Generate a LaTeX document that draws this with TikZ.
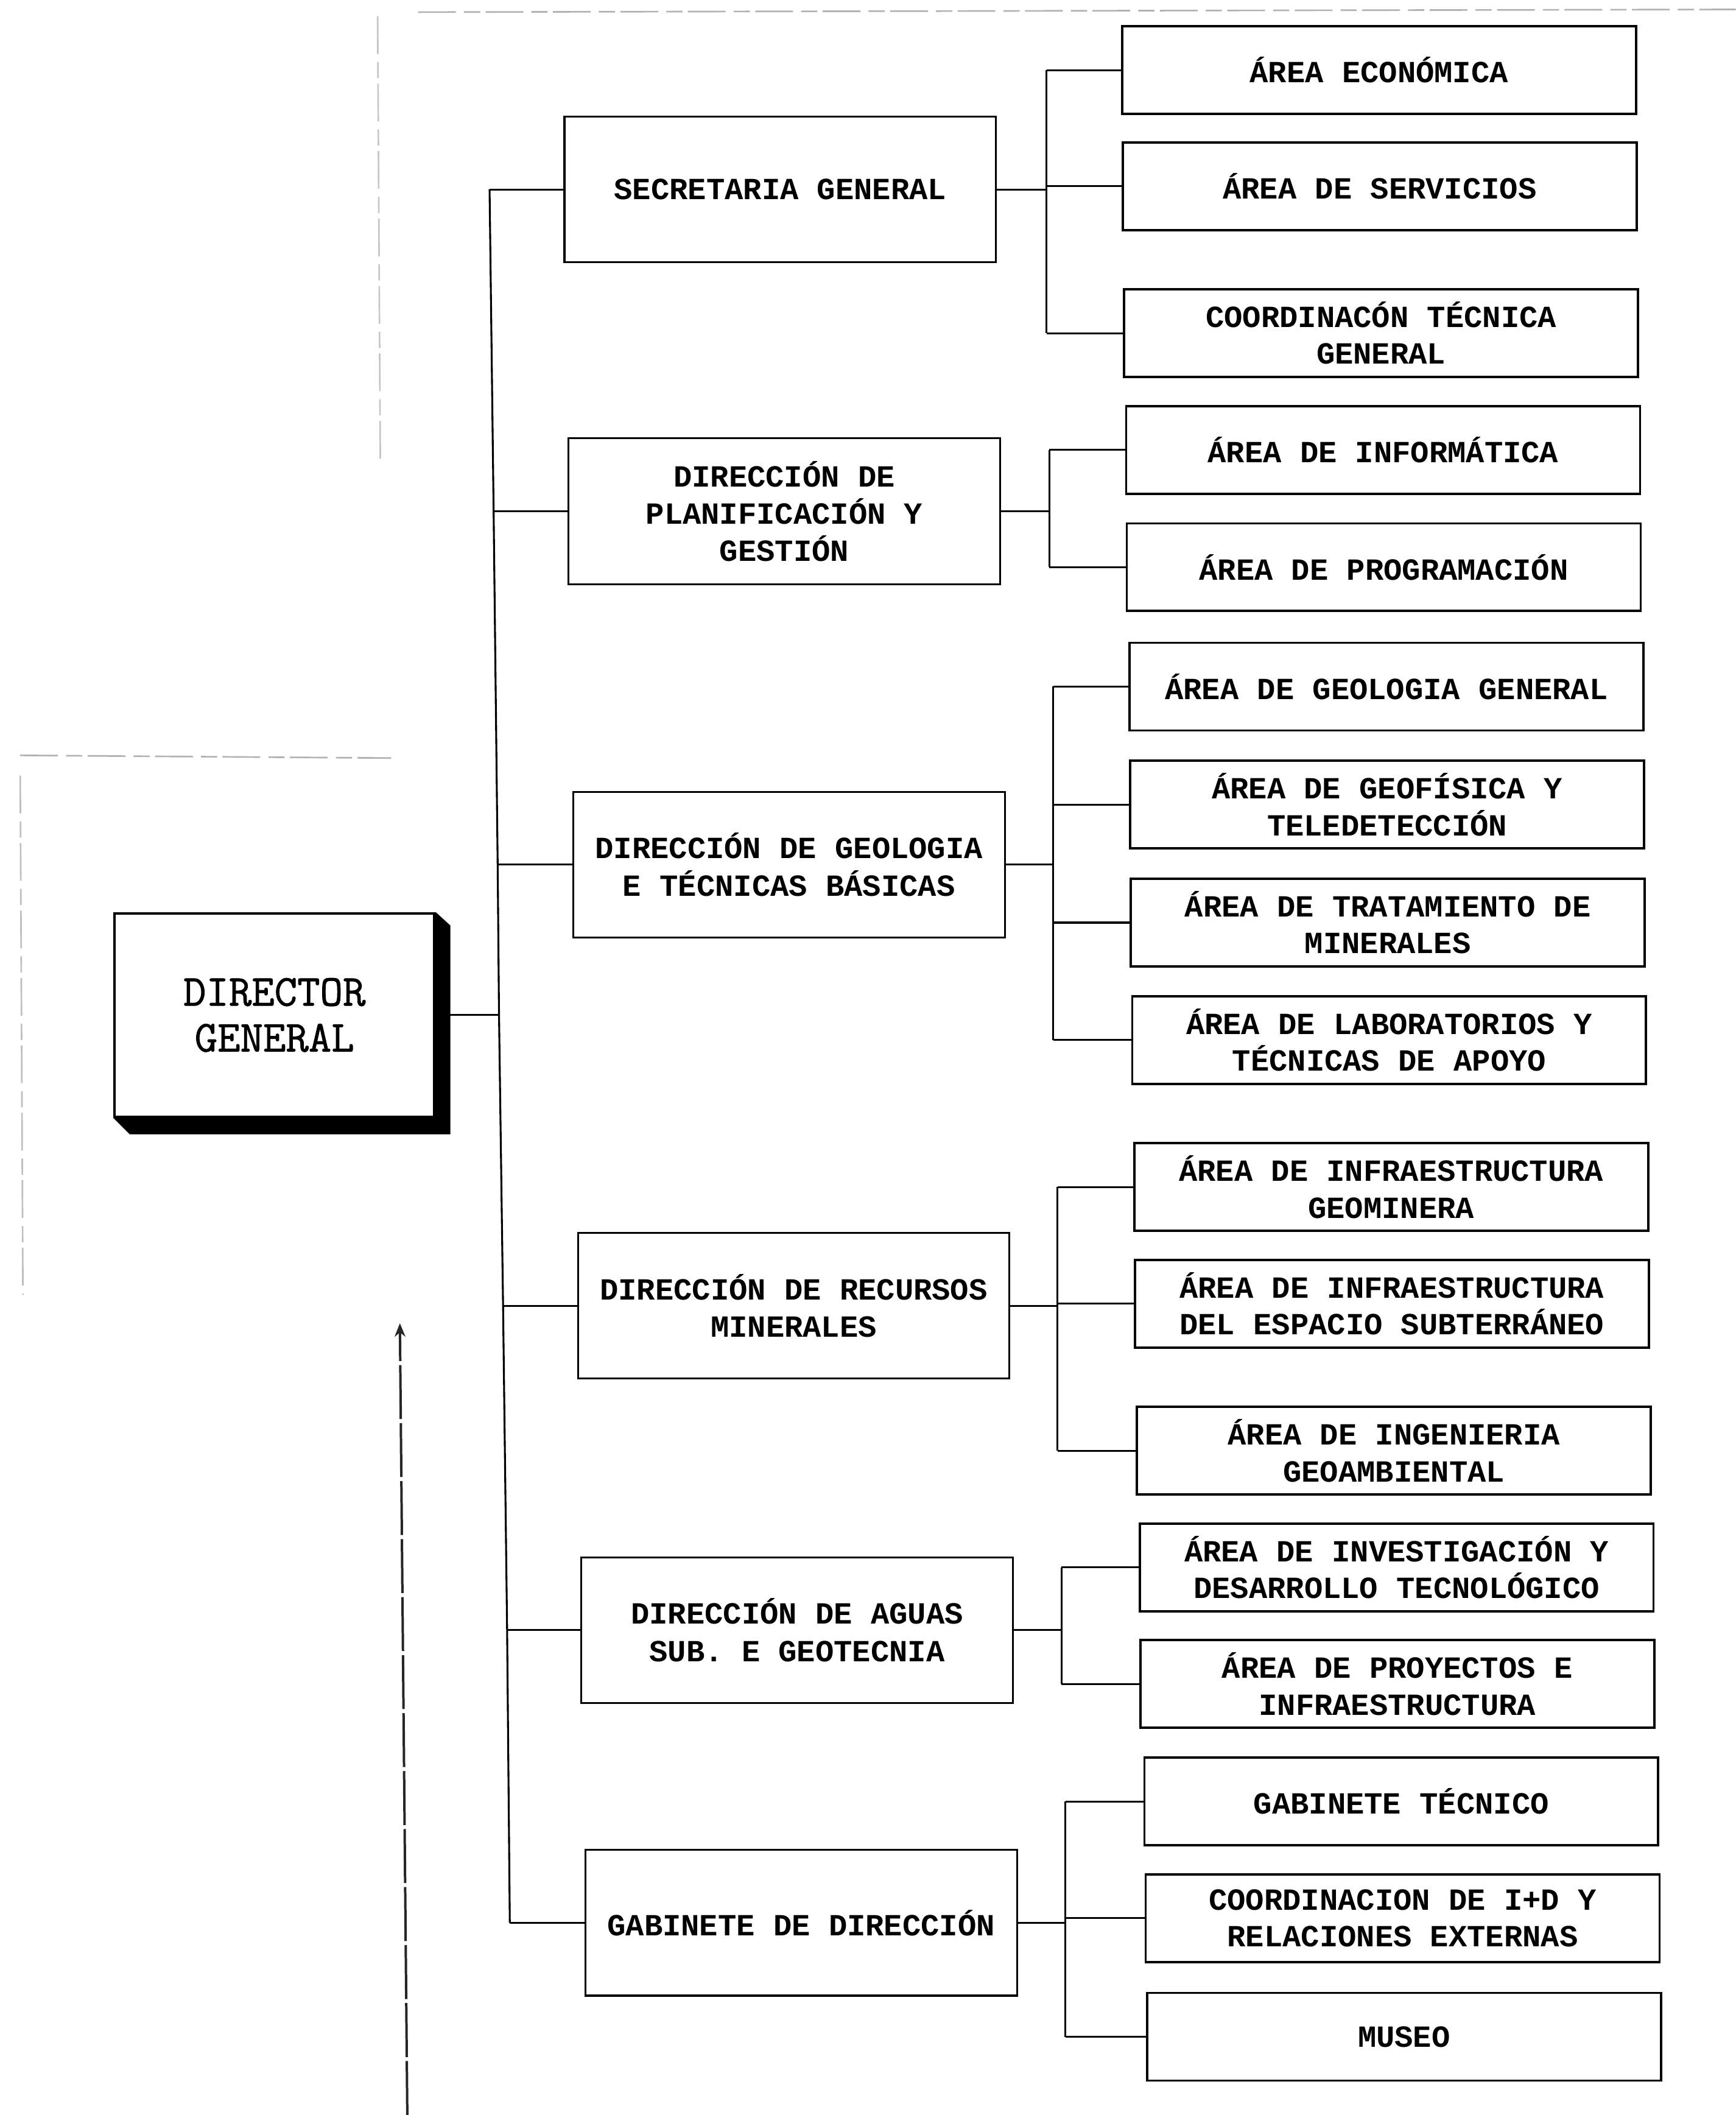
\documentclass[tikz,border=0pt]{standalone}
\usepackage{fontspec}
\newfontfamily\boxfont{Liberation Mono}
\newfontfamily\dgfont{Latin Modern Mono}[BoldFont={Latin Modern Mono},BoldFeatures={FakeBold=1.2}]
\usetikzlibrary{arrows.meta,backgrounds}
\begin{document}
\begin{tikzpicture}[x=0.5pt,y=-0.5pt,
  lvtwo/.style={draw,line width=0.85pt,fill=white,inner sep=0pt,align=center,
    minimum width=190.5pt,minimum height=32.5pt,
    font=\boxfont\bfseries\fontsize{11.4}{13.6}\selectfont},
  lvone/.style={draw,line width=0.7pt,fill=white,inner sep=0pt,align=center,
    minimum width=160pt,minimum height=54pt,
    font=\boxfont\bfseries\fontsize{11.4}{13.8}\selectfont},
  dgbox/.style={draw,line width=0.9pt,fill=white,inner sep=0pt,align=center,
    minimum width=118.5pt,minimum height=75.5pt,
    font=\dgfont\bfseries\fontsize{16.4}{17}\selectfont},
  conn/.style={line width=0.7pt},
  scanline/.style={line width=0.6pt,gray!60,dash pattern=on 14pt off 3pt on 6pt off 2pt}]
\useasboundingbox (0,0) rectangle (1287,1568);

% Director general
\node[dgbox] (dgen) at (203.5,752.5) {DIRECTOR\\GENERAL};

% Level 1
\node[lvone] (sg) at (578.5,140.5) {SECRETARIA GENERAL};
\node[lvone] (dp) at (581.5,379) {DIRECCIÓN DE\\PLANIFICACIÓN Y\\GESTIÓN};
\node[lvone] (dgeo) at (585,641) {DIRECCIÓN DE GEOLOGIA\\E TÉCNICAS BÁSICAS};
\node[lvone] (drm) at (588.5,968) {DIRECCIÓN DE RECURSOS\\MINERALES};
\node[lvone] (das) at (591,1208.5) {DIRECCIÓN DE AGUAS\\SUB. E GEOTECNIA};
\node[lvone] (gdir) at (594,1425.5) {GABINETE DE DIRECCIÓN};

% Level 2 - Secretaria
\node[lvtwo] (a11) at (1022.5,52) {ÁREA ECONÓMICA};
\node[lvtwo] (a12) at (1023,138) {ÁREA DE SERVICIOS};
\node[lvtwo] (a13) at (1024,247) {COORDINACÓN TÉCNICA\\GENERAL};
% Planificacion
\node[lvtwo] (a21) at (1025.5,333.5) {ÁREA DE INFORMÁTICA};
\node[lvtwo] (a22) at (1026,420.5) {ÁREA DE PROGRAMACIÓN};
% Geologia
\node[lvtwo] (a31) at (1028,509) {ÁREA DE GEOLOGIA GENERAL};
\node[lvtwo] (a32) at (1028.5,596.5) {ÁREA DE GEOFÍSICA Y\\TELEDETECCIÓN};
\node[lvtwo] (a33) at (1029,684) {ÁREA DE TRATAMIENTO DE\\MINERALES};
\node[lvtwo] (a34) at (1030,771) {ÁREA DE LABORATORIOS Y\\TÉCNICAS DE APOYO};
% Recursos
\node[lvtwo] (a41) at (1031.5,880) {ÁREA DE INFRAESTRUCTURA\\GEOMINERA};
\node[lvtwo] (a42) at (1032,966.5) {ÁREA DE INFRAESTRUCTURA\\DEL ESPACIO SUBTERRÁNEO};
\node[lvtwo] (a43) at (1033.5,1075.5) {ÁREA DE INGENIERIA\\GEOAMBIENTAL};
% Aguas
\node[lvtwo] (a51) at (1035.5,1162) {ÁREA DE INVESTIGACIÓN Y\\DESARROLLO TECNOLÓGICO};
\node[lvtwo] (a52) at (1036,1248.5) {ÁREA DE PROYECTOS E\\INFRAESTRUCTURA};
% Gabinete
\node[lvtwo] (a61) at (1039,1335.5) {GABINETE TÉCNICO};
\node[lvtwo] (a62) at (1040,1422) {COORDINACION DE I+D Y\\RELACIONES EXTERNAS};
\node[lvtwo] (a63) at (1041,1510) {MUSEO};

% trunk coordinates
\coordinate (t1) at (363,140.5);
\coordinate (t2) at (366,379);
\coordinate (t3) at (369,641);
\coordinate (tD) at (370,752.5);
\coordinate (t4) at (373,968);
\coordinate (t5) at (376,1208.5);
\coordinate (t6) at (378,1425.5);
% bus coordinates
\coordinate (b1a) at (776,52);   \coordinate (b1b) at (776,138);  \coordinate (b1c) at (776,247);
\coordinate (b1m) at (776,140.5);
\coordinate (b2a) at (778,333.5);\coordinate (b2b) at (778,420.5); \coordinate (b2m) at (778,379);
\coordinate (b3a) at (781,509);  \coordinate (b3b) at (781,596.5);\coordinate (b3c) at (781,684); \coordinate (b3d) at (781,771);
\coordinate (b3m) at (781,641);
\coordinate (b4a) at (784,880);  \coordinate (b4b) at (784,966.5);\coordinate (b4c) at (784,1075.5);
\coordinate (b4m) at (784,968);
\coordinate (b5a) at (787,1162); \coordinate (b5b) at (787,1248.5); \coordinate (b5m) at (787,1208.5);
\coordinate (b6a) at (790,1335.5);\coordinate (b6b) at (790,1422);\coordinate (b6c) at (790,1510);
\coordinate (b6m) at (790,1425.5);

\begin{pgfonlayer}{background}
  % trunk and level 1 branches
  \draw[conn] (t1) -- (t2) -- (t3) -- (tD) -- (t4) -- (t5) -- (t6);
  \draw[conn] (dgen.east) -- (tD);
  \draw[conn] (t1) -- (sg.west);
  \draw[conn] (t2) -- (dp.west);
  \draw[conn] (t3) -- (dgeo.west);
  \draw[conn] (t4) -- (drm.west);
  \draw[conn] (t5) -- (das.west);
  \draw[conn] (t6) -- (gdir.west);
  % groups
  \draw[conn] (sg.east) -- (b1m);
  \draw[conn] (b1a) -- (b1c);
  \draw[conn] (b1a) -- (a11.west); \draw[conn] (b1b) -- (a12.west); \draw[conn] (b1c) -- (a13.west);
  \draw[conn] (dp.east) -- (b2m);
  \draw[conn] (b2a) -- (b2b);
  \draw[conn] (b2a) -- (a21.west); \draw[conn] (b2b) -- (a22.west);
  \draw[conn] (dgeo.east) -- (b3m);
  \draw[conn] (b3a) -- (b3d);
  \draw[conn] (b3a) -- (a31.west); \draw[conn] (b3b) -- (a32.west); \draw[conn] (b3c) -- (a33.west); \draw[conn] (b3d) -- (a34.west);
  \draw[conn] (drm.east) -- (b4m);
  \draw[conn] (b4a) -- (b4c);
  \draw[conn] (b4a) -- (a41.west); \draw[conn] (b4b) -- (a42.west); \draw[conn] (b4c) -- (a43.west);
  \draw[conn] (das.east) -- (b5m);
  \draw[conn] (b5a) -- (b5b);
  \draw[conn] (b5a) -- (a51.west); \draw[conn] (b5b) -- (a52.west);
  \draw[conn] (gdir.east) -- (b6m);
  \draw[conn] (b6a) -- (b6c);
  \draw[conn] (b6a) -- (a61.west); \draw[conn] (b6b) -- (a62.west); \draw[conn] (b6c) -- (a63.west);
  % 3D shadow of director box
  \fill[black] (dgen.north east) -- ++(11,10) -- ([shift={(11,12)}]dgen.south east)
     -- ([shift={(12,12)}]dgen.south west) -- (dgen.south west) -- cycle;
  % scan remnants
  \coordinate (s1) at (310,9);   \coordinate (s2) at (1287,7);
  \coordinate (s3) at (280,12);  \coordinate (s4) at (282,345);
  \coordinate (s5) at (15,560);  \coordinate (s6) at (290,562);
  \coordinate (s7) at (15,575);  \coordinate (s8) at (17,960);
  \coordinate (s9) at (302,1568);\coordinate (s10) at (296.5,981);
  \draw[scanline] (s1) -- (s2);
  \draw[scanline,gray!45] (s3) -- (s4);
  \draw[scanline] (s5) -- (s6);
  \draw[scanline,gray!50] (s7) -- (s8);
  \draw[line width=0.9pt,gray!30!black,dash pattern=on 20pt off 1.5pt,-{Stealth[length=5pt,width=4pt]}] (s9) -- (s10);
\end{pgfonlayer}
\end{tikzpicture}
\end{document}
